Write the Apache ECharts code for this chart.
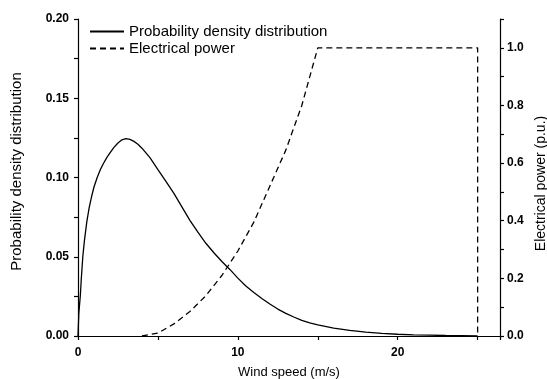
<!DOCTYPE html>
<html>
<head>
<meta charset="utf-8">
<script src="https://cdn.jsdelivr.net/npm/echarts@6/dist/echarts.min.js"></script>
<style>
  html, body { margin: 0; padding: 0; background: #fff; }
  #chart { width: 547px; height: 379px; }
</style>
</head>
<body>
<div id="chart"></div>
<script>
// probability density
const pdfWind = [0, 0.05, 0.1, 0.15, 0.2, 0.3, 0.4, 0.55, 0.7, 0.85, 1.0, 1.2, 1.4, 1.6, 1.8, 2.0, 2.25, 2.5, 2.75, 3.0, 3.25, 3.5, 3.75, 4.0, 4.5, 5.0, 5.5, 6.0, 6.5, 7.0, 7.5, 8.0, 8.5, 9.0, 9.5, 10.0, 10.5, 11.0, 11.5, 12.0, 12.5, 13, 13.5, 14, 14.5, 15, 16, 17, 18, 19, 20, 21, 22, 23, 24, 25];
const pdfValues = [0, 0.014, 0.02, 0.026, 0.035, 0.05, 0.06, 0.072, 0.081, 0.088, 0.094, 0.1, 0.105, 0.109, 0.1125, 0.1155, 0.119, 0.1218, 0.1238, 0.1245, 0.124, 0.1228, 0.121, 0.1185, 0.1125, 0.105, 0.0975, 0.09, 0.0815, 0.073, 0.0655, 0.0585, 0.0525, 0.047, 0.042, 0.0365, 0.0315, 0.0275, 0.0237, 0.0202, 0.017, 0.0143, 0.012, 0.0099, 0.0083, 0.007, 0.005, 0.0035, 0.0024, 0.0016, 0.0011, 0.0007, 0.0005, 0.0003, 0.0002, 0.0001];

// power curve (p.u.)
const powerWind = [4, 5, 6, 7, 8, 9, 10, 11, 12, 13, 14, 15, 25, 25];
const powerValues = [0, 0.01, 0.042, 0.085, 0.14, 0.21, 0.295, 0.395, 0.52, 0.645, 0.8, 1.0, 1.0, 0];

const pdfData = pdfWind.map((w, i) => [w, pdfValues[i]]);
const powerData = powerWind.map((w, i) => [w, powerValues[i]]);

const font = 'Arial, "Liberation Sans", sans-serif';
const black = '#000';

function isStep(v, step) {
  const r = v / step;
  return Math.abs(r - Math.round(r)) < 1e-6;
}

const chart = echarts.init(document.getElementById('chart'));
chart.setOption({
  animation: false,
  grid: { left: 78, right: 47, top: 19, bottom: 43, containLabel: false, outerBoundsMode: 'none' },
  legend: {
    left: 84, top: 19, orient: 'vertical',
    itemWidth: 34, itemHeight: 14, itemGap: 2,
    itemStyle: { opacity: 0 },
    textStyle: { fontFamily: font, fontSize: 15, color: black },
    data: ['Probability density distribution', 'Electrical power']
  },
  xAxis: {
    type: 'value', min: 0, max: 26.4, interval: 5,
    name: 'Wind speed (m/s)', nameLocation: 'middle', nameGap: 30,
    nameTextStyle: { fontFamily: font, fontSize: 13, color: black },
    axisLine: { lineStyle: { color: black, width: 1.2 } },
    axisTick: { inside: false, length: 4, lineStyle: { color: black, width: 1.2 } },
    axisLabel: {
      fontFamily: font, fontSize: 12, fontWeight: 'bold', color: black, margin: 11,
      formatter: v => isStep(v, 10) ? String(Math.round(v)) : ''
    },
    splitLine: { show: false }
  },
  yAxis: [
    {
      type: 'value', min: 0, max: 0.2, interval: 0.025, position: 'left',
      name: 'Probability density distribution', nameLocation: 'middle', nameGap: 54,
      nameTextStyle: { fontFamily: font, fontSize: 15, color: black, padding: [0, 0, 0, 12] },
      axisLine: { show: true, lineStyle: { color: black, width: 1.2 } },
      axisTick: { show: true, inside: false, length: 4, lineStyle: { color: black, width: 1.2 } },
      axisLabel: {
        fontFamily: font, fontSize: 12, fontWeight: 'bold', color: black, margin: 9,
        formatter: v => isStep(v, 0.05) ? v.toFixed(2) : ''
      },
      splitLine: { show: false }
    },
    {
      type: 'value', min: 0, max: 1.1, interval: 0.1, position: 'right',
      name: 'Electrical power (p.u.)', nameLocation: 'middle', nameGap: 29,
      nameTextStyle: { fontFamily: font, fontSize: 14, color: black, padding: [0, 12, 0, 0] },
      axisLine: { show: true, lineStyle: { color: black, width: 1.2 } },
      axisTick: { show: true, inside: false, length: 4, lineStyle: { color: black, width: 1.2 } },
      axisLabel: {
        fontFamily: font, fontSize: 12, fontWeight: 'bold', color: black, margin: 7,
        formatter: v => (isStep(v, 0.2) && v < 1.05) ? v.toFixed(1) : ''
      },
      splitLine: { show: false }
    }
  ],
  series: [
    {
      name: 'Probability density distribution',
      type: 'line', yAxisIndex: 0, symbol: 'none',
      lineStyle: { color: black, width: 1.3, type: 'solid' },
      itemStyle: { color: black },
      data: pdfData
    },
    {
      name: 'Electrical power',
      type: 'line', yAxisIndex: 1, symbol: 'none',
      lineStyle: { color: black, width: 1.3, type: [6, 4] },
      itemStyle: { color: black },
      data: powerData
    }
  ]
});
</script>
</body>
</html>
